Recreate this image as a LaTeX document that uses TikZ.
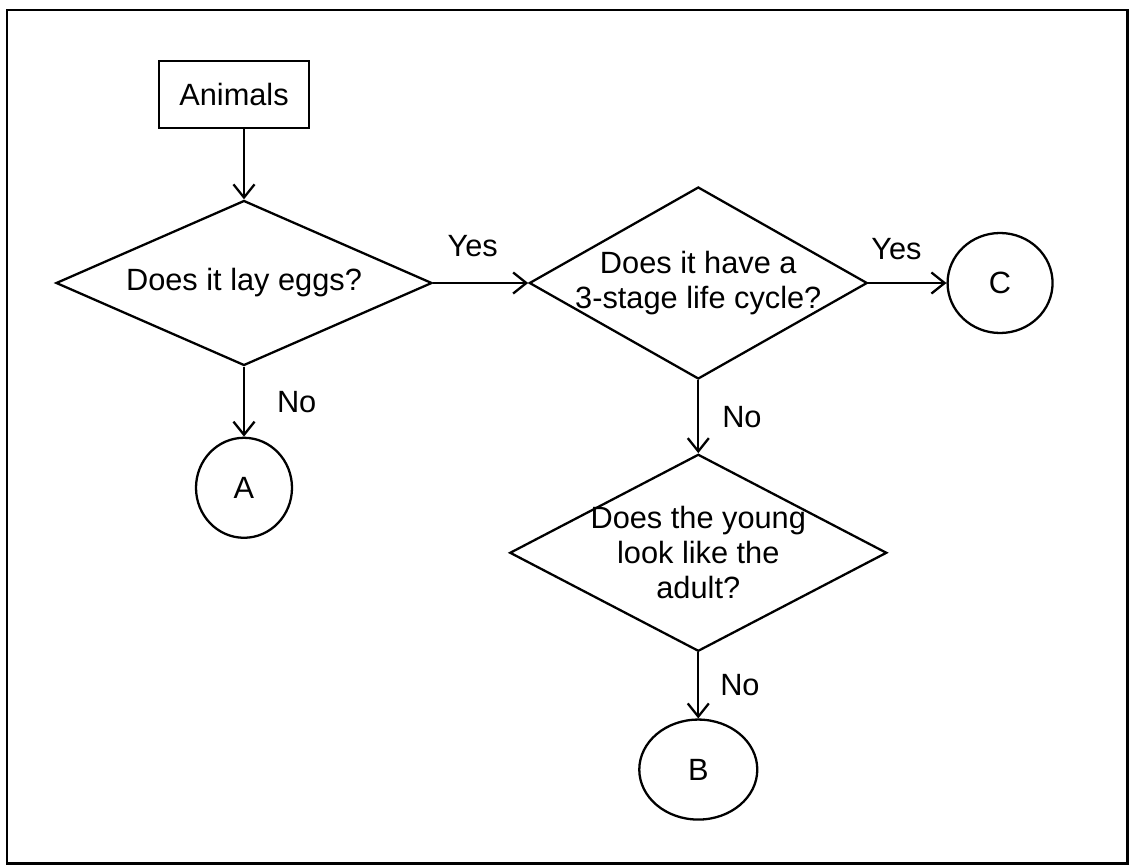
\documentclass[tikz,border=0pt]{standalone}
\usepackage{fontspec}
\setmainfont{Liberation Sans}
\usepackage{tikz}
\usetikzlibrary{shapes.geometric,arrows.meta,positioning}

\begin{document}
\begin{tikzpicture}[line width=1.3pt, >={Straight Barb[length=7.5pt,width=12pt]},
    every node/.style={font=\fontsize{17.5}{20}\selectfont},
    box/.style={rectangle, draw, minimum width=3cm, minimum height=1.34cm},
    decision/.style={diamond, draw, align=center, inner sep=-0.4cm, shape aspect=2},
    endpt/.style={ellipse, draw, inner sep=0pt, minimum height=2cm}]
        \useasboundingbox (0,0) rectangle (22.66,-17.32);
        \draw[line width=1.7pt] (0.14,-0.2) rectangle (22.54,-17.26);

        \node[decision, minimum width=7.52cm, minimum height=3.3cm] (eggs) at (4.88,-5.66) {Does it lay eggs?};
        \node[box, above=1.4cm of eggs, xshift=-0.2cm] (animals) {Animals};
        \node[decision, right=1.9cm of eggs, minimum width=6.76cm, minimum height=3.84cm] (stages) {Does it have a\\3-stage life cycle?};
        \node[endpt, right=1.56cm of stages, minimum width=2.1cm] (endC) {C};
        \node[endpt, below=1.4cm of eggs, minimum width=1.92cm] (endA) {A};
        \node[decision, below=1.46cm of stages, minimum width=7.54cm, minimum height=3.94cm] (young) {Does the young\\look like the\\adult?};
        \node[endpt, below=1.32cm of young, minimum width=2.36cm] (endB) {B};

        \draw[->] (animals.south -| eggs.north) -- (eggs.north);
        \draw[->] (eggs) -- (stages) node[midway, above=0.39cm, xshift=-0.16cm]{Yes};
        \draw[->] (stages) -- (endC) node[midway, above=0.33cm, xshift=-0.22cm]{Yes};
        \draw[->] (eggs) -- (endA) node[midway, right=0.52cm]{No};
        \draw[->] (stages) -- (young) node[midway, right=0.34cm]{No};
        \draw[->] (young) -- (endB) node[midway, right=0.3cm]{No};
    \end{tikzpicture}
\end{document}
